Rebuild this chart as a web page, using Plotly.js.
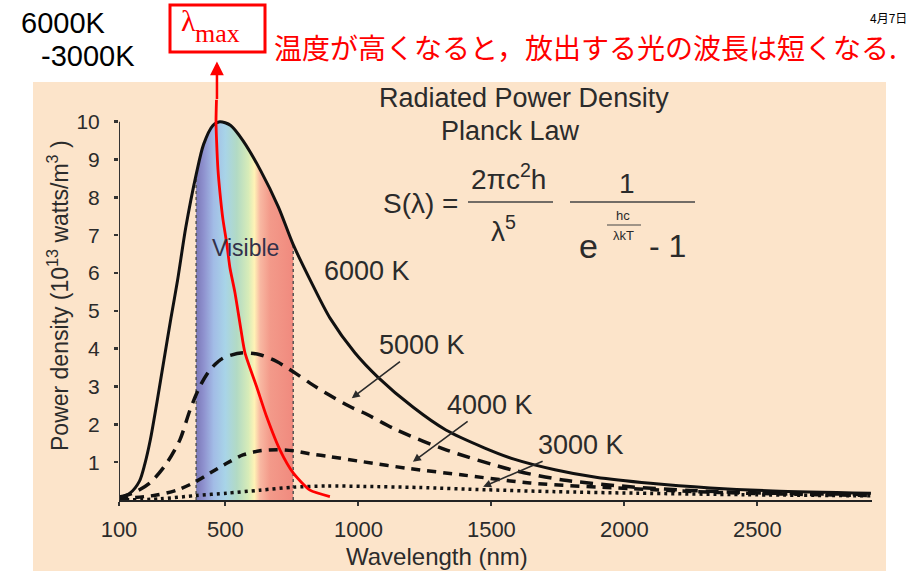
<!DOCTYPE html>
<html><head><meta charset="utf-8">
<script src="https://cdn.plot.ly/plotly-3.0.1.min.js"></script>
<style>html,body{margin:0;padding:0;background:#fff;}#chart{width:917px;height:571px;}</style>
</head><body><div id="chart"></div>
<script>
// ---- data ----
const wl6000 = [100,141,177,197,218,243,269,295,320,351,390,418,453,479,520,566,633,699,755,827,894,986,1073,1206,1329,1473,1585,1739,1893,2098,2323,2559,2927];
const pd6000 = [0.05,0.18,0.5,0.95,1.6,2.6,3.7,4.8,5.8,7.2,8.6,9.4,9.9,10.0,9.9,9.5,8.7,7.75,6.75,5.7,4.8,3.9,3.25,2.45,1.85,1.38,1.08,0.8,0.6,0.44,0.32,0.24,0.18];

const wl5000 = [100,151,216,279,329,367,404,442,491,566,630,693,755,818,889,968,1022,1144,1332,1581,1769,2021,2251,2559,2927];
const pd5000 = [0.08,0.18,0.45,0.97,1.59,2.38,3.0,3.44,3.75,3.89,3.84,3.66,3.39,3.09,2.78,2.47,2.3,1.85,1.32,0.79,0.53,0.35,0.25,0.18,0.15];

const wl4000 = [100,241,317,379,442,505,566,630,693,755,818,889,1018,1182,1393,1645,2021,2354,2661,2927];
const pd4000 = [0.03,0.13,0.26,0.45,0.71,0.97,1.19,1.3,1.33,1.3,1.22,1.15,1.01,0.84,0.66,0.45,0.3,0.2,0.15,0.12];

const wl3000 = [100,254,392,505,630,755,881,1018,1227,1483,1739,2046,2456,2927];
const pd3000 = [0.0,0.03,0.12,0.18,0.26,0.34,0.37,0.36,0.33,0.27,0.22,0.18,0.14,0.11];

// lambda-max locus (red annotation curve)
const redWl = [466.5,464.7,467.2,472.1,479.6,490.9,504.7,517.1,536,558.5,573.6,617.2,655.2,705.4,755.6,818.1,892.9];
const redPd = [10.58,10.0,9.44,8.73,8.12,7.41,6.8,6.14,5.48,4.5,3.89,3.0,2.2,1.32,0.71,0.26,0.09];
const redTip = [468.3, 11.59];

const visibleRange = [390, 755];
const xTicks = [100,500,1000,1500,2000,2500];
const xTickText = ['100','500','1000','1500','2000','2500'];
const yTicks = [1,2,3,4,5,6,7,8,9,10];
const curveLabels = ['6000 K','5000 K','4000 K','3000 K'];
const labelTips = [null, [975, 2.69], [1205, 1.01], [1469, 0.35]];

// ---- layout geometry ----
const W = 917, H = 571;
const M = {l:119, r:45, t:46, b:71};
const PW = W - M.l - M.r, PH = H - M.t - M.b;
const px = x => (x - M.l) / PW;
const py = y => (H - M.b - y) / PH;

const ink = '#2b2b2b';
const sans = '"Liberation Sans", Arial, Helvetica, sans-serif';

const visIdx = wl6000.map((w,i)=>i).filter(i => wl6000[i] >= visibleRange[0] && wl6000[i] <= visibleRange[1]);
const visX = visIdx.map(i=>wl6000[i]);
const visY = visIdx.map(i=>pd6000[i]);
const loY = pd6000[wl6000.indexOf(visibleRange[0])];
const hiY = pd6000[wl6000.indexOf(visibleRange[1])];

const sm = 0.8;
const traces = [
  {x: visX, y: visY, type:'scatter', mode:'lines', line:{width:0, shape:'spline', smoothing:sm}, fill:'tozeroy',
   fillgradient:{type:'horizontal', colorscale:[
     [0,'#7b78b8'],[0.08,'#8f92cf'],[0.18,'#a2bce6'],[0.3,'#a8d4e8'],[0.42,'#b2dac4'],
     [0.54,'#d8ecb8'],[0.6,'#fff3b6'],[0.66,'#f8b8a2'],[0.76,'#f39a8a'],[1,'#f08a7e']]}},
  {x:[visibleRange[0],visibleRange[0]], y:[0,loY], type:'scatter', mode:'lines', line:{color:'#555',width:1.5,dash:'dot'}},
  {x:[visibleRange[1],visibleRange[1]], y:[0,hiY], type:'scatter', mode:'lines', line:{color:'#555',width:1.5,dash:'dot'}},
  {x: wl3000, y: pd3000, type:'scatter', mode:'lines', line:{color:'#111',width:3.5,dash:'3px,4px',shape:'spline',smoothing:sm}},
  {x: wl4000, y: pd4000, type:'scatter', mode:'lines', line:{color:'#111',width:3.5,dash:'9px,7px',shape:'spline',smoothing:sm}},
  {x: wl5000, y: pd5000, type:'scatter', mode:'lines', line:{color:'#111',width:3.5,dash:'13px,8px',shape:'spline',smoothing:sm}},
  {x: wl6000, y: pd6000, type:'scatter', mode:'lines', line:{color:'#111',width:3,shape:'spline',smoothing:sm}},
  {x: redWl, y: redPd, type:'scatter', mode:'lines', line:{color:'#ff0000',width:2.8,shape:'spline',smoothing:0.6}}
];

function txt(text, x, y, size, opts) {
  return Object.assign({text:text, xref:'paper', yref:'paper', x:px(x), y:py(y), showarrow:false,
    xanchor:'center', yanchor:'middle', font:{family:sans, size:size, color:ink}}, opts||{});
}
function arrowLabel(i, ax, ay) {
  return {text:curveLabels[i], xref:'x', yref:'y', x:labelTips[i][0], y:labelTips[i][1], ax:ax, ay:ay, showarrow:true,
    arrowhead:2, arrowsize:1, arrowwidth:1.6, arrowcolor:ink, font:{family:sans,size:27,color:ink}};
}

const annotations = [
  txt('6000K', 63, 23, 29, {font:{family:sans,size:29,color:'#000'}}),
  txt('-3000K', 88, 56, 29, {font:{family:sans,size:29,color:'#000'}}),
  txt('4月7日', 888, 17, 12, {font:{family:'"Noto Sans CJK JP", sans-serif',size:12,color:'#000'}}),
  txt('温度が高くなると，放出する光の波長は短くなる.', 272, 47, 28, {xanchor:'left', font:{family:'"Noto Sans CJK JP", sans-serif',size:28,color:'#ff0000'}}),
  txt('λ', 188, 21, 30, {font:{family:'"Liberation Serif", "Times New Roman", serif',size:30,color:'#ff0000'}}),
  txt('max', 217, 33, 26, {font:{family:'"Liberation Serif", "Times New Roman", serif',size:26,color:'#ff0000'}}),
  {x: redTip[0], y: redTip[1], xref:'x', yref:'y', text:'', showarrow:true, ax:0, ay:39,
   arrowhead:2, arrowsize:1.1, arrowwidth:2.5, arrowcolor:'#ff0000', standoff:0},
  txt('Radiated Power Density', 524, 98, 27),
  txt('Planck Law', 510, 131, 27),
  txt('S(λ) =', 420, 203, 28),
  txt('2πc<sup>2</sup>h', 508, 177, 28),
  txt('λ<sup>5</sup>', 503, 229, 28),
  txt('1', 627, 183, 28),
  txt('hc', 623, 215, 13),
  txt('λkT', 623, 235, 13),
  txt('e', 588, 246, 34),
  txt('- 1', 667, 246, 32),
  txt('Visible', 245, 248, 23, {font:{family:sans,size:23,color:'#33304a'}}),
  txt(curveLabels[0], 367, 271, 27),
  arrowLabel(1, 70, -53),
  arrowLabel(2, 77, -57),
  arrowLabel(3, 98, -42),
  txt('Wavelength (nm)', 437, 556, 24),
  txt('Power density (10<sup>13</sup> watts/m<sup>3</sup> )', 58, 296, 23, {textangle:-90})
];

const shapes = [
  {type:'rect', xref:'paper', yref:'paper', x0:px(33), x1:px(886), y0:py(82), y1:py(571),
   fillcolor:'#fce4ca', line:{width:0}, layer:'below'},
  {type:'rect', xref:'paper', yref:'paper', x0:px(170), x1:px(265), y0:py(5), y1:py(52),
   fillcolor:'rgba(0,0,0,0)', line:{color:'#ff0000', width:3}},
  {type:'line', xref:'x', yref:'y', x0:xTicks[0], x1:xTicks[0], y0:0, y1:yTicks[yTicks.length-1],
   line:{color:'#333', width:2}},
  {type:'line', xref:'paper', yref:'paper', x0:px(468), x1:px(553), y0:py(202), y1:py(202), line:{color:'#444',width:1.5}},
  {type:'line', xref:'paper', yref:'paper', x0:px(570), x1:px(695), y0:py(202), y1:py(202), line:{color:'#444',width:1.5}},
  {type:'line', xref:'paper', yref:'paper', x0:px(607), x1:px(641), y0:py(225), y1:py(225), line:{color:'#444',width:1}}
];

const layout = {
  width: W, height: H, margin: M,
  paper_bgcolor:'#ffffff', plot_bgcolor:'rgba(0,0,0,0)',
  showlegend:false, hovermode:false,
  xaxis:{range:[100,2931], tickvals:xTicks, ticktext:xTickText, ticks:'outside', ticklen:4, tickwidth:2,
    tickcolor:'#333', showline:true, linecolor:'#222', linewidth:2, showgrid:false, zeroline:false,
    tickfont:{family:sans, size:22, color:ink}, ticklabelstandoff:5},
  yaxis:{range:[0,12], tickvals:yTicks, ticks:'outside', ticklen:4, tickwidth:2.5, tickcolor:'#333',
    showline:false, showgrid:false, zeroline:false,
    tickfont:{family:sans, size:21, color:ink}, ticklabelstandoff:10},
  annotations: annotations,
  shapes: shapes
};

Plotly.newPlot('chart', traces, layout, {staticPlot:true, displayModeBar:false});
</script>
</body></html>
